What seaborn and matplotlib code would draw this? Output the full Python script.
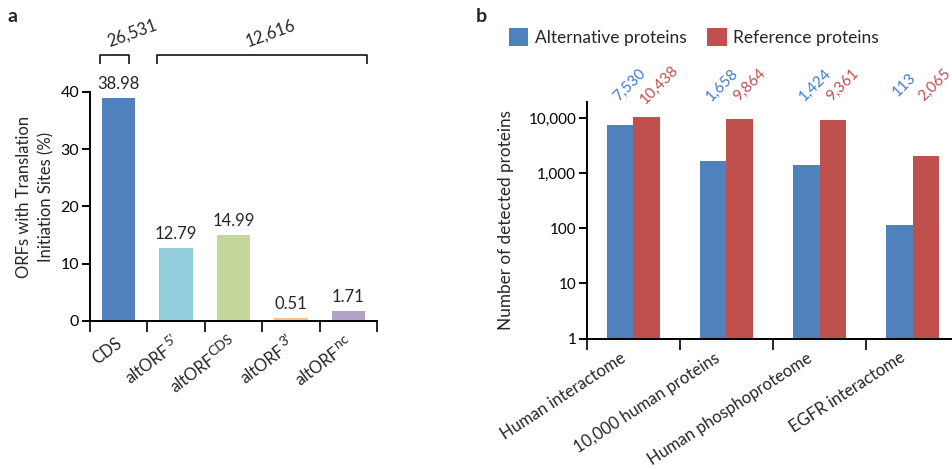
import matplotlib
matplotlib.use("Agg")
import matplotlib.pyplot as plt
from matplotlib.ticker import FixedLocator, FuncFormatter, NullLocator
import matplotlib.transforms as mtransforms
import seaborn as sns
import pandas as pd
import numpy as np

# ---- data -------------------------------------------------------------
orf_types = ["CDS", "altORF5'", "altORFCDS", "altORF3'", "altORFnc"]
# tick label = base text + superscript
orf_label_base = ["CDS", "altORF", "altORF", "altORF", "altORF"]
orf_label_sup = ["", "5\u2019", "CDS", "3\u2019", "nc"]
tis_percent = [38.98, 12.79, 14.99, 0.51, 1.71]
orf_colors = ["#4F81BD", "#92CDDC", "#C3D69B", "#FAC090", "#B3A2C7"]
orf_group_counts = ["26,531", "12,616"]

datasets = ["Human interactome", "10,000 human proteins",
            "Human phosphoproteome", "EGFR interactome"]
alt_proteins = [7530, 1658, 1424, 113]
ref_proteins = [10438, 9864, 9361, 2065]
series_names = ["Alternative proteins", "Reference proteins"]
series_colors = ["#4F81BD", "#C0504D"]
label_colors = ["#3E7BD1", "#C0504D"]

# ---- style ------------------------------------------------------------
sns.set_style("ticks")
plt.rcParams["font.family"] = ["Lato", "DejaVu Sans"]
plt.rcParams["axes.linewidth"] = 1.4
plt.rcParams["xtick.major.width"] = 1.4
plt.rcParams["ytick.major.width"] = 1.4
plt.rcParams["xtick.major.size"] = 5.8
plt.rcParams["ytick.major.size"] = 5.8
FS_TICK = 11
FS_TEXT = 12

W, H = 953, 469
DPI = 100
fig = plt.figure(figsize=(W / DPI, H / DPI), dpi=DPI)
renderer = fig.canvas.get_renderer()


def px_axes(left, top, right, bottom):
    return fig.add_axes([left / W, 1 - bottom / H, (right - left) / W, (bottom - top) / H])


def text_width_px(s, size):
    t = fig.text(0, 0, s, fontsize=size)
    w = t.get_window_extent(renderer).width
    t.remove()
    return w


def rotated_label(ax, x, base, sup, angle, dx, dy, size, sup_size):
    """Category label whose baseline ends at (x + dx px, axis - dy px)."""
    th = np.deg2rad(angle)
    u = np.array([np.cos(th), np.sin(th)])
    nrm = np.array([-np.sin(th), np.cos(th)])
    base_tr = mtransforms.blended_transform_factory(ax.transData, ax.transAxes)
    end = np.array([dx, -dy])
    kw = dict(rotation=angle, rotation_mode="anchor", ha="right", va="baseline",
              clip_on=False)
    shift = end.copy()
    if sup:
        wsup = text_width_px(sup, sup_size) + 1
        sp = end + 6.5 * nrm
        ax.text(x, 0, sup, fontsize=sup_size,
                transform=base_tr + mtransforms.ScaledTranslation(sp[0] / DPI, sp[1] / DPI,
                                                                  fig.dpi_scale_trans), **kw)
        shift = end - wsup * u
    ax.text(x, 0, base, fontsize=size,
            transform=base_tr + mtransforms.ScaledTranslation(shift[0] / DPI, shift[1] / DPI,
                                                              fig.dpi_scale_trans), **kw)


# ---- panel a ----------------------------------------------------------
ax1 = px_axes(90, 92, 377, 320.7)
df_a = pd.DataFrame({"type": orf_types, "pct": tis_percent})
sns.barplot(data=df_a, x="type", y="pct", hue="type", palette=orf_colors,
            width=0.58, legend=False, linewidth=0, saturation=1, ax=ax1)
ax1.set_xlim(-0.5, 4.5)
ax1.set_ylim(0, 40)
ax1.set_yticks([0, 10, 20, 30, 40])
ax1.tick_params(axis="y", labelsize=FS_TICK + 0.5, colors="black", pad=2)
for s in ["top", "right"]:
    ax1.spines[s].set_visible(False)
ax1.spines["left"].set_color("black")
ax1.spines["bottom"].set_color("black")
ax1.set_xlabel("")
ax1.set_ylabel("")
fig.text(35 / W, 1 - 197 / H, "ORFs with Translation\nInitiation Sites (%)",
         rotation=90, ha="center", va="center", multialignment="center",
         fontsize=FS_TEXT, linespacing=1.45)

n = len(orf_types)
ax1.xaxis.set_major_locator(FixedLocator(np.arange(n + 1) - 0.5))
ax1.xaxis.set_major_formatter(FuncFormatter(lambda v, p: ""))
ax1.tick_params(axis="x", which="major", length=8)
for i in range(n):
    rotated_label(ax1, i, orf_label_base[i], orf_label_sup[i], 37, 5, 25,
                  FS_TEXT, FS_TEXT - 2)

for i, v in enumerate(tis_percent):
    ax1.annotate(f"{v:.2f}", (i, v), xytext=(0, 4), textcoords="offset points",
                 ha="center", va="bottom", fontsize=FS_TEXT, annotation_clip=False)

# group brackets above the bars
bw = 0.58 / 2
brackets = [(0 - bw - 0.04, 0 + bw - 0.11), (1 - bw - 0.04, 4 + bw + 0.04)]
bracket_text_x = [0.24, 2.65]
y_top, y_leg = 46.5, 44.9
for (x0, x1), tx, txt in zip(brackets, bracket_text_x, orf_group_counts):
    ax1.plot([x0, x0, x1, x1], [y_leg, y_top, y_top, y_leg], color="black",
             lw=1.1, clip_on=False, solid_capstyle="butt")
    ax1.text(tx, 50.3, txt, rotation=20, ha="center", va="center", fontsize=FS_TEXT)

fig.text(8 / W, 1 - 8 / H, "a", fontsize=14, fontweight="bold", va="top", ha="left")

# ---- panel b ----------------------------------------------------------
ax2 = px_axes(587, 102, 959, 338.5)
ax2.set_yscale("log")
df_b = pd.DataFrame({
    "dataset": datasets * 2,
    "count": alt_proteins + ref_proteins,
    "series": [series_names[0]] * len(datasets) + [series_names[1]] * len(datasets),
})
sns.barplot(data=df_b, x="dataset", y="count", hue="series", palette=series_colors,
            width=0.58, gap=0, linewidth=0, saturation=1, ax=ax2)
ax2.set_xlim(-0.5, 3.5)
ax2.set_ylim(1, 10 ** 4.296)
ax2.yaxis.set_major_locator(FixedLocator([1, 10, 100, 1000, 10000]))
ax2.yaxis.set_minor_locator(NullLocator())
ax2.yaxis.set_major_formatter(FuncFormatter(lambda v, p: f"{v:,.0f}"))
ax2.tick_params(axis="y", labelsize=FS_TICK, colors="black", pad=2)
for s in ["top", "right"]:
    ax2.spines[s].set_visible(False)
ax2.spines["left"].set_color("black")
ax2.spines["bottom"].set_color("black")
ax2.set_xlabel("")
ax2.set_ylabel("Number of detected proteins", fontsize=FS_TEXT + 0.3, labelpad=10)

m = len(datasets)
ax2.xaxis.set_major_locator(FixedLocator(np.arange(m + 1) - 0.5))
ax2.xaxis.set_major_formatter(FuncFormatter(lambda v, p: ""))
ax2.tick_params(axis="x", which="major", length=8)
for i in range(m):
    rotated_label(ax2, i, datasets[i], "", 33, -6, 22, FS_TEXT, FS_TEXT)

# rotated value labels above each group
trans = mtransforms.blended_transform_factory(ax2.transData, ax2.transAxes)
half = 0.58 / 2
for i in range(m):
    for k, vals in enumerate([alt_proteins, ref_proteins]):
        left = i - half + k * half
        ax2.text(left, 1.072, f"{vals[i]:,}", rotation=45, ha="left", va="center",
                 fontsize=FS_TICK, color=label_colors[k], clip_on=False,
                 transform=trans + mtransforms.ScaledTranslation(4 / DPI, 0, fig.dpi_scale_trans))

sns.move_legend(ax2, "center", bbox_to_anchor=(694 / W, 1 - 37 / H),
                bbox_transform=fig.transFigure, ncol=2, frameon=False, title=None,
                fontsize=12.5, handlelength=1.1, handleheight=1.27,
                handletextpad=0.4, columnspacing=1.2)

fig.text(476 / W, 1 - 8 / H, "b", fontsize=14, fontweight="bold", va="top", ha="left")

fig.savefig("out.png", dpi=DPI)
